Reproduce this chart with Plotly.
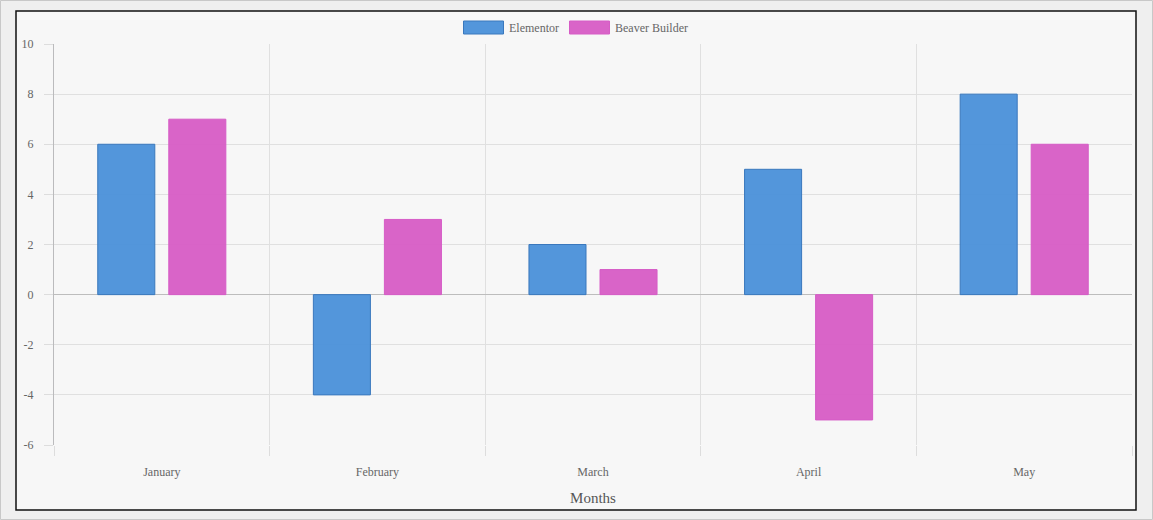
import plotly.graph_objects as go

months = ["January", "February", "March", "April", "May"]
elementor = [6, -4, 2, 5, 8]
beaver = [7, 3, 1, -5, 6]
y_ticks = [-6, -4, -2, 0, 2, 4, 6, 8, 10]
y_labels = ["-6", "-4", "-2", "0", "2", "4", "6", "8", "10"]

# plot area in pixels: x 54..1132, y 44..445
L, R, T, B = 54, 1132, 44, 445
W, H = R - L, B - T


def px(x):
    return (x - L) / W


def py(y):
    return (B - y) / H


blue, blue_line = "rgba(74,144,217,0.95)", "#3a78bd"
pink, pink_line = "rgba(215,92,197,0.95)", "#d65cc6"

fig = go.Figure()
fig.add_trace(go.Bar(
    x=months, y=elementor, name="Elementor", showlegend=False,
    marker=dict(color=blue, line=dict(color=blue_line, width=1)),
))
fig.add_trace(go.Bar(
    x=months, y=beaver, name="Beaver Builder", showlegend=False,
    marker=dict(color=pink, line=dict(color=pink_line, width=1)),
))

font = "Liberation Serif, Times New Roman, serif"

# legend drawn by hand (wide boxes like the original)
legend_shapes = [
    dict(type="rect", xref="paper", yref="paper", layer="above",
         x0=px(463.5), x1=px(503.5), y0=py(34), y1=py(21),
         fillcolor=blue, line=dict(color=blue_line, width=1)),
    dict(type="rect", xref="paper", yref="paper", layer="above",
         x0=px(569.5), x1=px(609.5), y0=py(34), y1=py(21),
         fillcolor=pink, line=dict(color=pink_line, width=1)),
]
legend_notes = [
    dict(text="Elementor", xref="paper", yref="paper", x=px(507), y=py(27.5),
         xanchor="left", yanchor="middle", showarrow=False,
         font=dict(size=12, color="#666666")),
    dict(text="Beaver Builder", xref="paper", yref="paper", x=px(613), y=py(27.5),
         xanchor="left", yanchor="middle", showarrow=False,
         font=dict(size=12, color="#666666")),
]

fig.update_layout(
    width=1153, height=520,
    margin=dict(l=L, r=1153 - R, t=T, b=520 - B),
    paper_bgcolor="#efefef",
    plot_bgcolor="rgba(0,0,0,0)",
    barmode="group", bargap=0.341, bargroupgap=0.197,
    font=dict(family=font, color="#666666", size=12),
    showlegend=False,
    shapes=[
        dict(type="rect", xref="paper", yref="paper", layer="below",
             x0=px(0.5), x1=px(1152.5), y0=py(519.5), y1=py(0.5),
             fillcolor="#efefef", line=dict(color="#c8c8c8", width=1)),
        dict(type="rect", xref="paper", yref="paper", layer="below",
             x0=px(16), x1=px(1136), y0=py(510), y1=py(11),
             fillcolor="#f7f7f7", line=dict(color="#111111", width=1.5)),
    ] + legend_shapes,
    annotations=legend_notes,
)
fig.update_xaxes(
    tickson="boundaries", ticks="outside", ticklen=10, tickcolor="#dddddd",
    showgrid=True, gridcolor="#e0e0e0", gridwidth=1,
    showline=False, tickfont=dict(size=12, color="#666666"),
    ticklabelstandoff=18,
    title=dict(text="Months", font=dict(size=15, color="#555555"), standoff=14),
)
fig.update_yaxes(
    range=[-6, 10], tickvals=y_ticks, ticktext=y_labels,
    ticks="outside", ticklen=9, tickcolor="#dddddd",
    showgrid=True, gridcolor="#e0e0e0", gridwidth=1,
    zeroline=True, zerolinecolor="#bdbdbd", zerolinewidth=1,
    showline=True, linecolor="#bbbbbd", linewidth=1,
    tickfont=dict(size=12, color="#666666"), ticklabelstandoff=8,
)

fig.write_html("out.html", config={"displayModeBar": False},
               post_script="document.body.style.margin='0';")
